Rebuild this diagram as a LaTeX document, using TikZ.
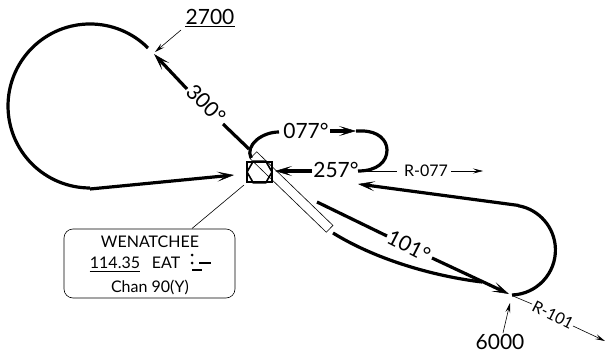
\documentclass[tikz,border=0pt]{standalone}
\usepackage{fontspec}
\setmainfont{Lato}
\usetikzlibrary{arrows.meta,shapes.geometric,positioning,calc}
\tikzset{trk/.style={line width=3.2pt},thn/.style={line width=0.6pt},
  barb/.style={-{Stealth[length=17pt,width=10pt,inset=9pt,line width=0.5pt]}},
  thinbarb/.style={-{Stealth[length=10pt,width=5pt,inset=4pt]}},
  lbl/.style={inner sep=0pt,font=\fontsize{21}{21}\selectfont},
  small/.style={inner sep=0pt,font=\fontsize{16}{16}\selectfont}}

\begin{document}
\begin{tikzpicture}[x=1pt,y=-1pt]
          \useasboundingbox (0,0) rectangle (605,353);

          % station
          \node (st) [draw,line width=1.8pt,minimum width=25pt,minimum height=20pt,inner sep=0pt] at (259.5,172) {};
          \node (hex) [draw,line width=1.6pt,regular polygon,regular polygon sides=6,minimum size=25pt,inner sep=0pt] at (259.5,172) {};
          \node (cs) [draw,thn,minimum width=106pt,minimum height=9.5pt,inner sep=0pt,rotate=-44] at (291.5,192) {};

          % track ends
          \coordinate (a1) at (148,48);
          \coordinate (a3) at (90,189);
          \coordinate (a4) at (234,175);
          \coordinate (o1) at (249,149);
          \coordinate (o2) at (223,124);
          \coordinate (o3) at (187,89);
          \coordinate (o4) at (154,54);
          \coordinate (p1) at (251,158);
          \coordinate (p2) at (279,132);
          \coordinate (p3) at (330,131);
          \coordinate (p4) at (356,131);
          \coordinate (p5) at (358,171);
          \coordinate (p6) at (312,171);
          \coordinate (p7) at (275,171);
          \coordinate (t1) at (317,202);
          \coordinate (t2) at (387,236);
          \coordinate (t3) at (432,258);
          \coordinate (t4) at (509,294);
          \coordinate (t5) at (333,233);
          \coordinate (t6) at (482,282);
          \coordinate (t7) at (512,295);
          \coordinate (t8) at (519,205.5);
          \coordinate (t9) at (358,184);

          % tracks
          \draw[trk] (a1) arc[start angle=-45,end angle=-270,radius=82];
          \draw[trk,barb] (a3) -- (a4);
          \draw[trk] (o1) -- (o2);
          \draw[trk,barb] (o3) -- (o4);
          \draw[trk] (p1) .. controls (245,145) and (262,132) .. (p2);
          \draw[trk,barb] (p3) -- (p4);
          \draw[trk] (p4) -- (362,131) .. controls (378,131) and (387,140) .. (387,150) .. controls (387,162) and (377,171) .. (p5);
          \draw[trk,barb] (p6) -- (p7);
          \draw[trk] (t1) -- (t2);
          \draw[trk,barb] (t3) -- (t4);
          \draw[trk] (t5) .. controls (380,262) and (440,277) .. (t6);
          \draw[trk] (t7) arc[start angle=88,end angle=-80,radius=45];
          \draw[trk,barb] (t8) -- (t9);

          % radials
          \coordinate (r1) at (397,171);
          \coordinate (r2) at (451,171);
          \coordinate (r3) at (483,171);
          \coordinate (r4) at (513,296);
          \coordinate (r5) at (532,304);
          \coordinate (r6) at (573,326);
          \coordinate (r7) at (605,341);
          \draw[thn] (p5) -- (r1);
          \draw[thn] (r4) -- (r5);
          \foreach \i/\j in {r2/r3, r6/r7}
          {\draw[thn,thinbarb] (\i)--(\j);}

          % track labels
          \node (brg300) [lbl,rotate=-45] at (206,104) {300°};
          \node (brg077) [lbl] at (306,131) {077°};
          \node (brg257) [lbl] at (336,170) {257°};
          \node (brg101) [lbl,rotate=-27] at (409,246) {101°};
          \node (r077) [small] at (426,171) {R-077};
          \node (r101) [small,rotate=-27] at (553,315) {R-101};

          % altitudes
          \node (alt1) [lbl] at (210,17) {2700};
          \node (alt2) [lbl] at (500,341.5) {6000};
          \draw[thn] (alt1.south west)++(0,1) -- ($(alt1.south east)+(0,1)$);
          \coordinate (q1) at (181,30);
          \coordinate (q2) at (155,52);
          \coordinate (q3) at (503,333);
          \coordinate (q4) at (510,303);
          \foreach \i/\j in {q1/q2, q3/q4}
          {\draw[thn,thinbarb] (\i)--(\j);}

          % navaid box
          \node (box) [draw,thn,rounded corners=9pt,minimum width=171pt,minimum height=69pt,inner sep=0pt] at (149.5,263.5) {};
          \node (nm) [small] at (150,241.5) {WENATCHEE};
          \node (fq) [small] at (115,262.5) {114.35};
          \node (id) [small] at (166,262.5) {EAT};
          \node (ch) [small] at (150,287) {Chan 90(Y)};
          \draw[thn] (fq.south west)++(0,2.5) -- ($(fq.south east)+(0,2.5)$);
          \coordinate (b1) at (244,185);
          \draw[thn] (b1) -- (192,228.5);

          % morse
          \fill (192,255) circle (1.5pt) (192,263) circle (1.5pt);
          \draw[line width=1.8pt] (199,263) -- (211,263) (192,270) -- (202,270);
\end{tikzpicture}
\end{document}
